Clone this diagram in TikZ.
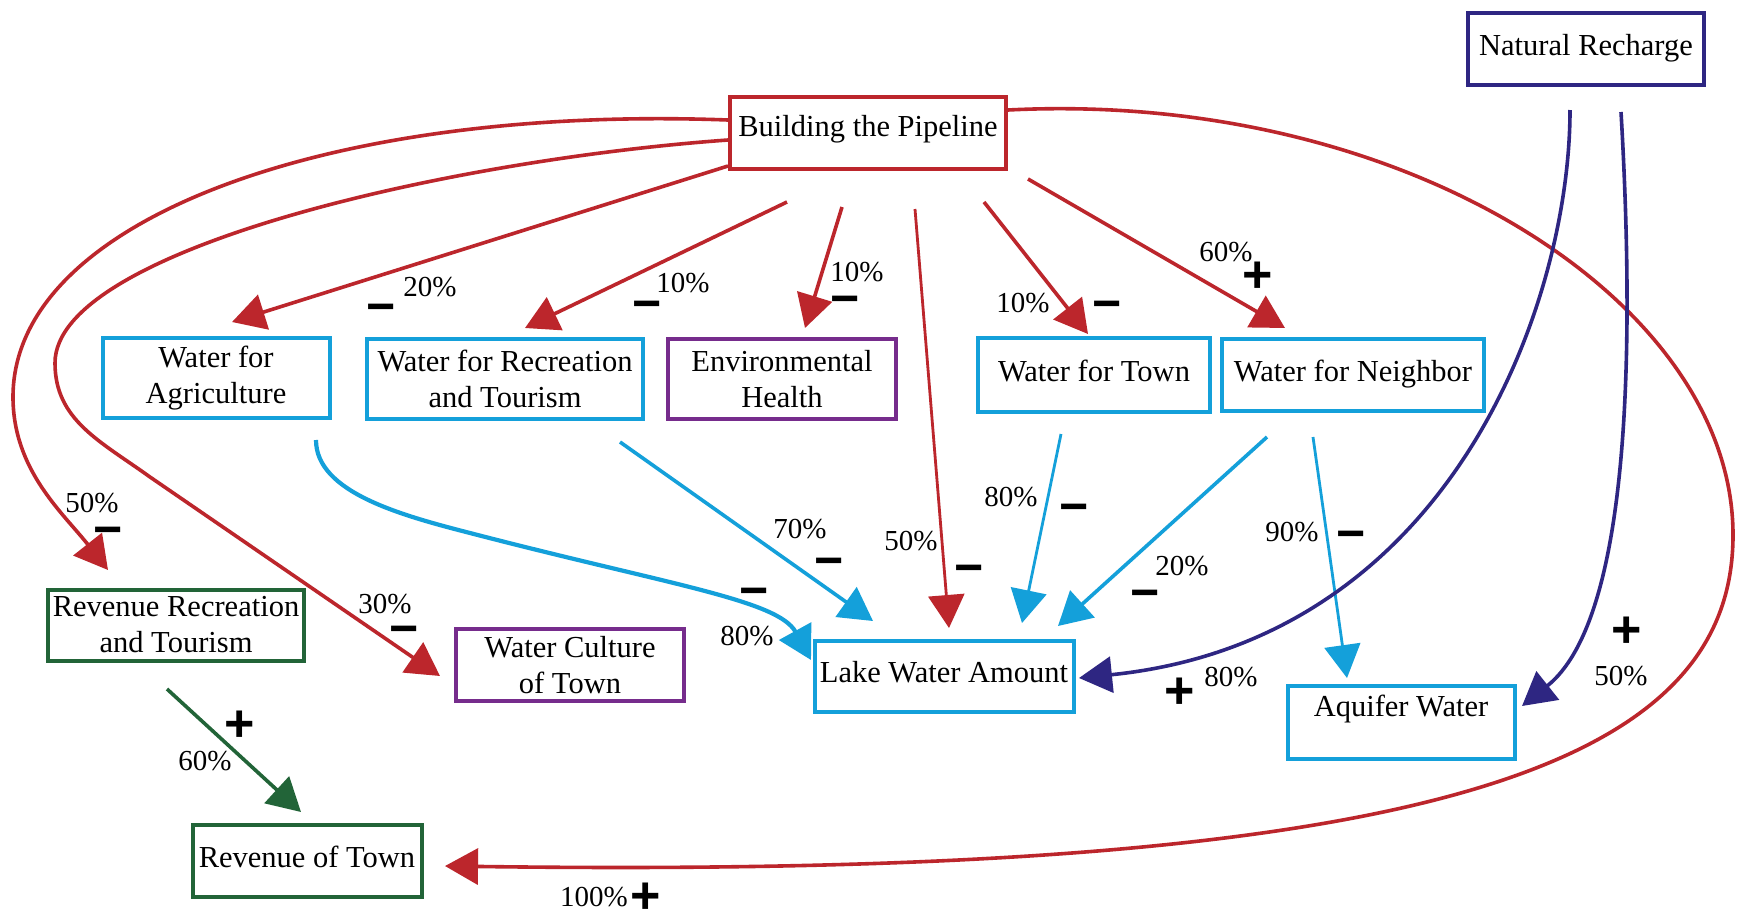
\documentclass[tikz,border=0pt]{standalone}
\usepackage{fontspec}
\setmainfont{Liberation Serif}
\newfontfamily\signfont{Liberation Sans}
\usetikzlibrary{arrows.meta}

\definecolor{pipered}{RGB}{188,38,44}
\definecolor{waterblue}{RGB}{20,160,218}
\definecolor{envpurple}{RGB}{118,44,140}
\definecolor{rechargeblue}{RGB}{46,38,130}
\definecolor{revgreen}{RGB}{34,100,56}

\tikzset{
  box/.style={draw, line width=4pt, inner sep=0pt, minimum height=72pt,
              font=\fontsize{30.5}{36}\selectfont, align=center},
  oneline/.style={text height=21.4pt, text depth=7.6pt},
  pct/.style={font=\fontsize{29}{32}\selectfont, inner sep=0pt},
  minussign/.style={font=\signfont\bfseries\fontsize{50}{50}\selectfont, inner sep=0pt},
  plussign/.style={font=\signfont\bfseries\fontsize{52}{52}\selectfont, inner sep=0pt},
  link/.style={line width=3.6pt, -{Triangle[length=33pt,width=36pt]}},
  redlink/.style={link, pipered},
  bluelink/.style={link, waterblue},
  indigolink/.style={link, rechargeblue},
  greenlink/.style={link, revgreen},
}

\begin{document}
\begin{tikzpicture}[x=1pt,y=-1pt]
\useasboundingbox[fill=white] (0,0) rectangle (1737,916);

% ---- boxes ----
\node[box, oneline, draw=rechargeblue, minimum width=236pt] (nr) at (1586,49) {Natural Recharge};
\node[box, draw=pipered, minimum width=276pt, text height=21.4pt, text depth=15pt] (bp) at (868,133) {Building the Pipeline};
\node[box, draw=waterblue, minimum width=227pt, minimum height=80pt] (agri) at (216,378) {Water for\\Agriculture};
\node[box, draw=waterblue, minimum width=276pt, minimum height=80pt] (wrec) at (505,379) {Water for Recreation\\and Tourism};
\node[box, draw=envpurple, minimum width=228pt, minimum height=80pt] (env) at (782,379) {Environmental\\Health};
\node[box, oneline, draw=waterblue, minimum width=232pt, minimum height=74pt] (wtown) at (1094,375) {Water for Town};
\node[box, oneline, draw=waterblue, minimum width=262pt] (wnb) at (1353,375) {Water for Neighbor};
\node[box, draw=revgreen, minimum width=256pt, minimum height=71pt] (rrt) at (176,625) {Revenue Recreation\\and Tourism};
\node[box, draw=envpurple, minimum width=228pt] (wcult) at (570,665) {Water Culture\\of Town};
\node[box, oneline, draw=waterblue, minimum width=259pt, minimum height=71pt] (lake) at (944,676) {Lake Water Amount};
\node[box, draw=waterblue, minimum width=227pt, minimum height=73pt, text height=21.4pt, text depth=31.7pt] (aq) at (1401,722) {Aquifer Water};
\node[box, oneline, draw=revgreen, minimum width=229pt] (rtown) at (307,861) {Revenue of Town};

% ---- links from the pipeline ----
\draw[redlink] ([shift={(0,-13)}]bp.west) .. controls +(-400,-15) and +(0,-177) .. (13,397)
  .. controls +(0,73) and +(-45,-57) .. ([shift={(-68,-17.5)}]rrt.north);
\draw[redlink] ([shift={(0,7)}]bp.west) .. controls +(-280,20) and +(0,-113) .. (55,363)
  .. controls +(0,57) and +(-50,-36) .. (150,477) -- ([shift={(-14,11)}]wcult.west);
\draw[redlink] ([shift={(0,33)}]bp.west) -- ([shift={(16,-14)}]agri.north);
\draw[redlink] ([shift={(-81,31)}]bp.south) -- ([shift={(20,-9)}]wrec.north);
\draw[redlink] ([shift={(-26,36)}]bp.south) -- ([shift={(23,-9)}]env.north);
\draw[redlink, line width=2.8pt] ([shift={(47,38)}]bp.south) -- ([shift={(5,-10.5)}]lake.north);
\draw[redlink] ([shift={(116,31)}]bp.south) -- ([shift={(-6,-2)}]wtown.north);
\draw[redlink] ([shift={(160,8)}]bp.south) -- ([shift={(-68,-9)}]wnb.north);
\draw[redlink] ([shift={(0,-23)}]bp.east) .. controls +(394,-20) and +(0,-235) .. (1733,535)
  .. controls +(0,225) and +(1007,14) .. ([shift={(21.5,5)}]rtown.east);

% ---- water links ----
\draw[bluelink, line width=4.2pt] ([shift={(100,20)}]agri.south) .. controls +(0,52) and +(-70,-18) .. (470,533)
  .. controls +(200,52) and +(-33,-60) .. ([shift={(-1.5,-16)}]lake.west);
\draw[bluelink] ([shift={(115,21)}]wrec.south) -- ([shift={(-71,-17.5)}]lake.north);
\draw[bluelink, line width=2.8pt] ([shift={(-33,20)}]wtown.south) -- ([shift={(78,-15.5)}]lake.north);
\draw[bluelink] ([shift={(-86,24)}]wnb.south) -- ([shift={(114,-12.5)}]lake.north);
\draw[bluelink, line width=2.8pt] ([shift={(-40,24)}]wnb.south) -- ([shift={(-54,-5.5)}]aq.north);

% ---- recharge links ----
\draw[indigolink] ([shift={(-16,23)}]nr.south) .. controls +(0,192) and +(373,-38) .. ([shift={(3.5,2)}]lake.east);
\draw[indigolink] ([shift={(35,25)}]nr.south) .. controls +(14,240) and +(108,-86) .. ([shift={(5.5,-16)}]aq.east);

% ---- revenue link ----
\draw[greenlink] ([shift={(-9,26.5)}]rrt.south) -- ([shift={(-6,-11)}]rtown.north);

% ---- percentages and signs ----
\node[pct] (p_rr) at (92,503) {50\%};     \node[minussign] (s_rr) at (108,537) {−};
\node[pct] (p_ag) at (430,287) {20\%};    \node[minussign] (s_ag) at (381,314) {−};
\node[pct] (p_rec) at (683,283) {10\%};   \node[minussign] (s_rec) at (647,311) {−};
\node[pct] (p_env) at (857,272) {10\%};   \node[minussign] (s_env) at (845,306) {−};
\node[pct] (p_town) at (1023,303) {10\%}; \node[minussign] (s_town) at (1107,311) {−};
\node[pct] (p_nb) at (1226,252) {60\%};   \node[plussign] (s_nb) at (1258,277) {+};
\node[pct] (p_wc) at (385,604) {30\%};    \node[minussign] (s_wc) at (404,636) {−};
\node[pct] (p_bag) at (747,636) {80\%};   \node[minussign] (s_bag) at (754,598) {−};
\node[pct] (p_brec) at (800,529) {70\%};  \node[minussign] (s_brec) at (829,568) {−};
\node[pct] (p_lake) at (911,541) {50\%};  \node[minussign] (s_lake) at (969,575) {−};
\node[pct] (p_btown) at (1011,497) {80\%};\node[minussign] (s_btown) at (1074,514) {−};
\node[pct] (p_nbl) at (1182,566) {20\%};  \node[minussign] (s_nbl) at (1145,600) {−};
\node[pct] (p_nbaq) at (1292,532) {90\%}; \node[minussign] (s_nbaq) at (1351,541) {−};
\node[pct] (p_nl) at (1231,677) {80\%};   \node[plussign] (s_nl) at (1180,693) {+};
\node[pct] (p_na) at (1621,676) {50\%};   \node[plussign] (s_na) at (1627,632) {+};
\node[pct] (p_g) at (205,761) {60\%};     \node[plussign] (s_g) at (240,726) {+};
\node[pct] (p_rt) at (594,897) {100\%};   \node[plussign] (s_rt) at (646,898) {+};
\end{tikzpicture}
\end{document}
